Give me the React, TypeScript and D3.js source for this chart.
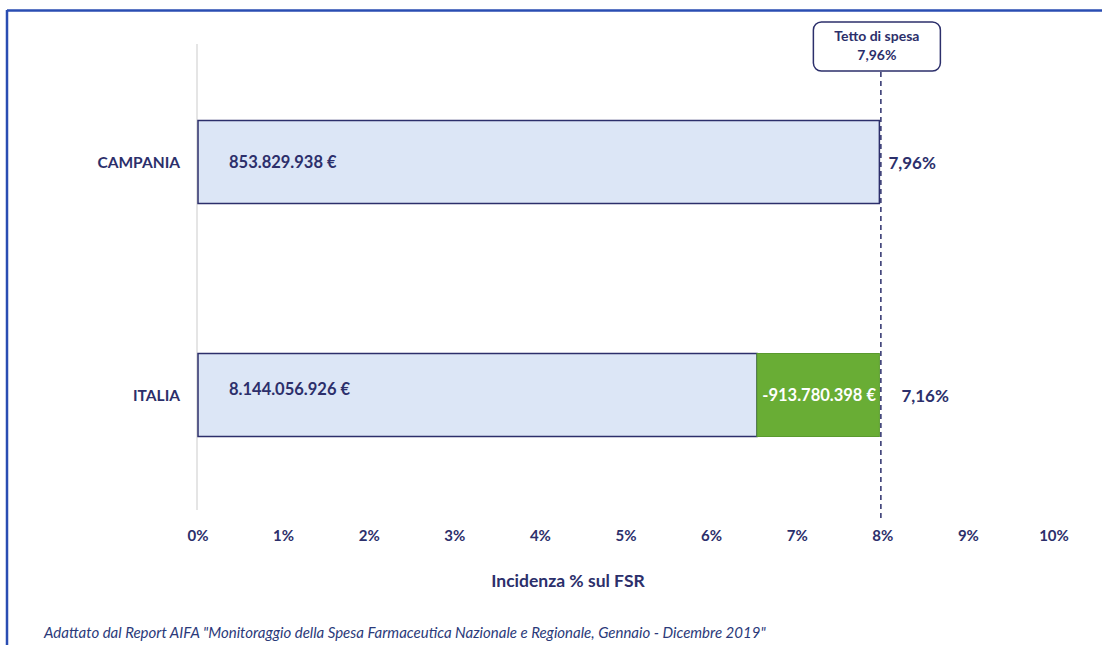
import React from 'react';
import * as d3 from 'd3';

// chart data
const categories = ['CAMPANIA', 'ITALIA'];
const baseValues = [7.96, 6.53]; // light blue segment, % sul FSR
const overValues = [0, 1.43]; // green segment
const amountLabels = ['853.829.938 €', '8.144.056.926 €'];
const overLabels = ['', '-913.780.398 €'];
const pctLabels = ['7,96%', '7,16%'];
const tickValues = [0, 1, 2, 3, 4, 5, 6, 7, 8, 9, 10];
const tetto = 7.96;
const tettoLabel = ['Tetto di spesa', '7,96%'];
const axisTitle = 'Incidenza % sul FSR';
const footnote = 'Adattato dal Report AIFA "Monitoraggio della Spesa Farmaceutica Nazionale e Regionale, Gennaio - Dicembre 2019"';

const width = 1102;
const height = 645;
const navy = '#2c2f6b';
const font = 'Lato, "Open Sans", sans-serif';

const App = () => {
  const x = d3.scaleLinear().domain([0, 10]).range([198, 1054]);
  const y = d3.scalePoint<string>().domain(categories).range([45.5, 511.5]).padding(0.5);
  const barH = 83;

  return (
    <svg width={width} height={height} style={{ position: 'absolute', left: 0, top: 0 }} fontFamily={font}>
      <rect x={0} y={0} width={width} height={height} fill="#fff" />
      {/* frame */}
      <line x1={7} y1={10.5} x2={width} y2={10.5} stroke="#2a4db2" strokeWidth={2.5} />
      <line x1={7} y1={10} x2={7} y2={height} stroke="#2a4db2" strokeWidth={2.5} />

      {/* vertical axis line */}
      <line x1={x(0) - 1} y1={44} x2={x(0) - 1} y2={510} stroke="#dcdcdc" strokeWidth={1.5} />

      {categories.map((c, i) => {
        const cy = y(c) as number;
        const top = cy - barH / 2;
        const end = baseValues[i] + overValues[i];
        return (
          <g key={c}>
            <rect x={x(0)} y={top} width={x(baseValues[i]) - x(0)} height={barH}
              fill="#dce6f6" stroke={navy} strokeWidth={1.5} />
            {overValues[i] > 0 && (
              <rect x={x(baseValues[i])} y={top} width={x(end) - x(baseValues[i])} height={barH}
                fill="#69ad35" stroke="#5a9a2e" strokeWidth={1} />
            )}
            <text x={180} y={cy} textAnchor="end" dominantBaseline="central"
              fontWeight="bold" fontSize={15.5} fill={navy}>{c}</text>
            <text x={x(0) + 31} y={cy - (i === 1 ? 6 : 0)} dominantBaseline="central"
              fontWeight="bold" fontSize={16.5} fill={navy}>{amountLabels[i]}</text>
            {overLabels[i] && (
              <text x={(x(baseValues[i]) + x(end)) / 2 + 1} y={cy} textAnchor="middle" dominantBaseline="central"
                fontWeight="bold" fontSize={16.5} fill="#fff">{overLabels[i]}</text>
            )}
            <text x={x(end) + (i === 0 ? 9 : 22)} y={cy} dominantBaseline="central"
              fontWeight="bold" fontSize={17} fill={navy}>{pctLabels[i]}</text>
          </g>
        );
      })}

      {/* tetto di spesa */}
      <line x1={x(tetto) + 1.5} y1={72} x2={x(tetto) + 1.5} y2={522} stroke={navy}
        strokeWidth={1.5} strokeDasharray="5,4" />
      <rect x={x(tetto) - 66} y={22} width={127} height={49} rx={8} fill="#fff" stroke={navy} strokeWidth={1.5} />
      {tettoLabel.map((t, i) => (
        <text key={t} x={x(tetto) - 2.5} y={35 + i * 19} textAnchor="middle" dominantBaseline="central"
          fontWeight="bold" fontSize={14} fill={navy}>{t}</text>
      ))}

      {/* x ticks */}
      {tickValues.map(t => (
        <text key={t} x={x(t)} y={535} textAnchor="middle" dominantBaseline="central"
          fontWeight="bold" fontSize={15} fill={navy}>{t}%</text>
      ))}
      <text x={568} y={580} textAnchor="middle" dominantBaseline="central"
        fontWeight="bold" fontSize={17.5} fill={navy}>{axisTitle}</text>

      <text x={44} y={632} dominantBaseline="central" fontStyle="italic" fontSize={15} fill="#2b3a7a">{footnote}</text>
    </svg>
  );
};

export default App;
